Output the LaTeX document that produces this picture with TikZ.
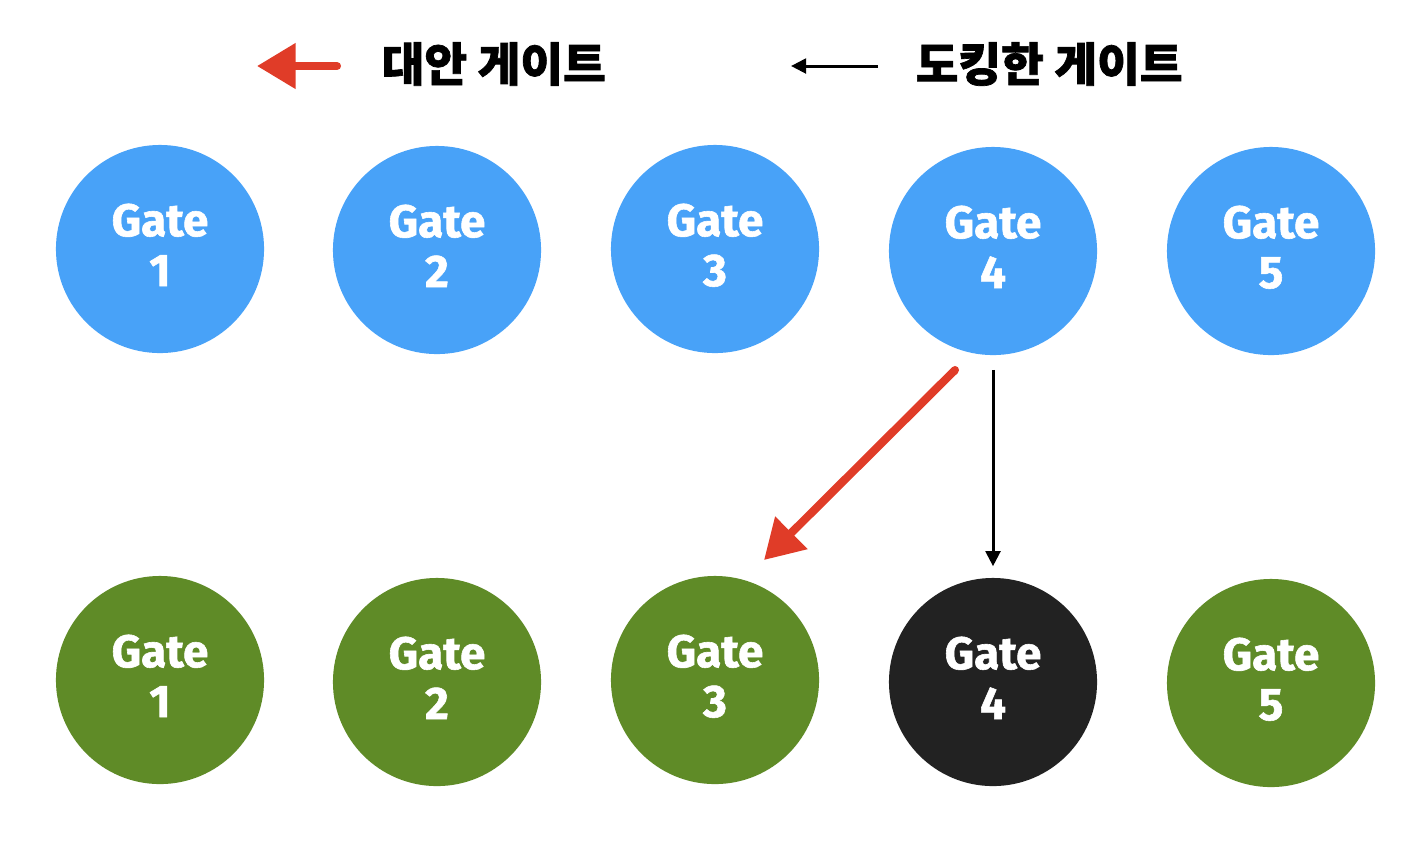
\documentclass[tikz,border=0pt]{standalone}
\usepackage{fontspec}
\setmainfont{Fira Sans}[BoldFeatures={FakeBold=1.3}]
\newfontfamily\krfont{Noto Sans CJK KR}[BoldFeatures={FakeBold=1.5}]
\usetikzlibrary{arrows.meta}
\definecolor{gblue}{HTML}{48A2F8}
\definecolor{ggreen}{HTML}{5F8B27}
\definecolor{gdark}{HTML}{222222}
\definecolor{gred}{HTML}{E03C28}
\newcommand\gatetxt[1]{\raisebox{-0.8pt}[\height][\depth]{\begin{tabular}{@{}c@{}}Gate\\[1pt]#1\end{tabular}}}
\tikzset{
  gate/.style={circle, minimum size=2.08cm, inner sep=0pt, text=white, align=center,
    font=\fontsize{13}{13.2}\selectfont\bfseries},
  bluegate/.style={gate, fill=gblue},
  greengate/.style={gate, fill=ggreen},
  darkgate/.style={gate, fill=gdark},
  legendtext/.style={anchor=west, inner sep=0pt, font=\krfont\fontsize{13.2}{15}\selectfont\bfseries},
  blackarrow/.style={draw=black, line width=0.85pt, -{Triangle[length=4.3pt,width=4.2pt]}},
  redarrow/.style={draw=gred, line width=2.3pt, line cap=round, -{Triangle[length=11pt,width=12.5pt]}},
}
\begin{document}
\begin{tikzpicture}[x=0.01cm,y=-0.01cm]
\useasboundingbox (0,0) rectangle (1422,844);
% top row
\node[bluegate] (b1) at (160,249) {\gatetxt{1}};
\node[bluegate] (b2) at (437,250) {\gatetxt{2}};
\node[bluegate] (b3) at (715,249) {\gatetxt{3}};
\node[bluegate] (b4) at (993,251) {\gatetxt{4}};
\node[bluegate] (b5) at (1271,251) {\gatetxt{5}};
% bottom row
\node[greengate] (g1) at (160,680) {\gatetxt{1}};
\node[greengate] (g2) at (437,682) {\gatetxt{2}};
\node[greengate] (g3) at (715,680) {\gatetxt{3}};
\node[darkgate]  (g4) at (993,682) {\gatetxt{4}};
\node[greengate] (g5) at (1271,683) {\gatetxt{5}};
% legend
\coordinate (la1) at (337,66);
\coordinate (la2) at (257,66);
\draw[redarrow] (la1) -- (la2);
\node[legendtext] (lt1) at (381,64) {대안 게이트};
\coordinate (lb1) at (878,66);
\coordinate (lb2) at (791,66);
\draw[blackarrow] (lb1) -- (lb2);
\node[legendtext] (lt2) at (915,64) {도킹한 게이트};
% connectors
\coordinate (r1) at (955,370);
\coordinate (r2) at (764,560);
\draw[redarrow] (r1) -- (r2);
\draw[blackarrow, shorten <=0.14cm, shorten >=0.11cm] (b4.south) -- (g4.north);
\end{tikzpicture}
\end{document}
